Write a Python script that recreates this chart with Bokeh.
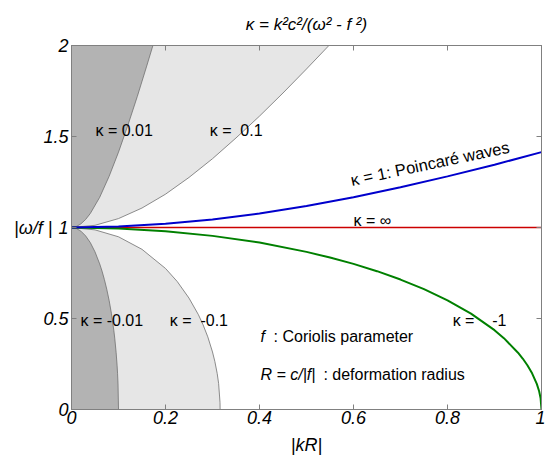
from bokeh.plotting import figure
from bokeh.models import Range1d, LinearAxis, FixedTicker
from bokeh.core.properties import value
from bokeh.embed import file_html
from bokeh.resources import INLINE

# kappa = 0.01 (upper boundary of dark region)
k001_x = [0, 0.01, 0.02, 0.03, 0.04, 0.06, 0.08, 0.10, 0.12, 0.14, 0.16, 0.1732]
k001_y = [1, 1.005, 1.020, 1.044, 1.077, 1.166, 1.281, 1.414, 1.562, 1.720, 1.887, 2.0]
# kappa = 0.1
k01_x = [0, 0.05, 0.10, 0.15, 0.20, 0.25, 0.30, 0.35, 0.40, 0.45, 0.50, 0.5477]
k01_y = [1, 1.012, 1.049, 1.107, 1.183, 1.275, 1.378, 1.492, 1.612, 1.739, 1.871, 2.0]
# kappa = -0.01
km001_x = [0, 0.01, 0.02, 0.03, 0.04, 0.05, 0.06, 0.065, 0.07, 0.075, 0.08, 0.085, 0.09, 0.092,
           0.095, 0.097, 0.098, 0.099, 0.1]
km001_y = [1, 0.995, 0.980, 0.954, 0.917, 0.866, 0.800, 0.760, 0.714, 0.661, 0.600, 0.527, 0.436, 0.392,
           0.312, 0.243, 0.199, 0.141, 0.0]
# kappa = -0.1
km01_x = [0, 0.05, 0.10, 0.15, 0.20, 0.225, 0.25, 0.27, 0.28, 0.29, 0.30, 0.305, 0.31, 0.313, 0.316, 0.3162]
km01_y = [1, 0.987, 0.949, 0.880, 0.775, 0.703, 0.612, 0.521, 0.465, 0.399, 0.316, 0.264, 0.198, 0.143, 0.038, 0.0]
# kappa = 1 : Poincare waves
k1_x = [0, 0.1, 0.2, 0.3, 0.4, 0.5, 0.6, 0.7, 0.8, 0.9, 1.0]
k1_y = [1, 1.005, 1.020, 1.044, 1.077, 1.118, 1.166, 1.221, 1.281, 1.345, 1.414]
# kappa = -1
km1_x = [0, 0.1, 0.2, 0.3, 0.4, 0.5, 0.55, 0.6, 0.65, 0.7, 0.75, 0.8, 0.85, 0.9, 0.92, 0.95, 0.96, 0.97,
         0.98, 0.99, 0.995, 0.998, 1.0]
km1_y = [1, 0.995, 0.980, 0.954, 0.917, 0.866, 0.835, 0.800, 0.760, 0.714, 0.661, 0.600, 0.527, 0.436, 0.392,
         0.312, 0.280, 0.243, 0.199, 0.141, 0.100, 0.063, 0.0]
# kappa = infinity
kinf_x = [0, 1]
kinf_y = [1, 1]

x_ticks = [0, 0.2, 0.4, 0.6, 0.8, 1]
y_ticks = [0, 0.5, 1, 1.5, 2]

NB = "\u00a0"
labels_txt = ["κ = 0.01", "κ =" + NB * 2 + "0.1", "κ = -0.01", "κ =" + NB * 2 + "-0.1",
              "κ =" + NB * 4 + "-1", "κ = ∞"]
labels_x = [0.051, 0.294, 0.019, 0.209, 0.811, 0.60]
labels_y = [1.535, 1.535, 0.487, 0.487, 0.49, 1.04]

notes_it_txt = ["f", "R = c/|f|"]
notes_it_x = [0.402, 0.402]
notes_txt = [": Coriolis parameter", ": deformation radius"]
notes_x = [0.430, 0.536]
notes_y = [0.40, 0.195]

FONT = "Liberation Sans"
GRAY = "#808080"

p = figure(width=545, height=457, x_range=Range1d(0, 1), y_range=Range1d(0, 2),
           output_backend="svg", toolbar_location=None,
           min_border_left=71, min_border_right=4, min_border_top=42, min_border_bottom=45)
p.grid.visible = False
p.outline_line_color = GRAY
p.background_fill_color = "white"

# fills
light_xs = [0] + k01_x[::-1] + km01_x + [0]
light_ys = [2] + k01_y[::-1] + km01_y + [0]
dark_xs = [0] + k001_x[::-1] + km001_x + [0]
dark_ys = [2] + k001_y[::-1] + km001_y + [0]
p.patch(light_xs, light_ys, fill_color="#e6e6e6", line_color=None)
p.patch(dark_xs, dark_ys, fill_color="#b3b3b3", line_color=None)
for xs, ys in [(k001_x, k001_y), (k01_x, k01_y), (km001_x, km001_y), (km01_x, km01_y)]:
    p.line(xs, ys, line_color="#707070", line_width=0.8)

p.line(kinf_x, kinf_y, line_color="#cc0000", line_width=1.5)
p.line(km1_x, km1_y, line_color="#008000", line_width=2)
p.line(k1_x, k1_y, line_color="#0000cc", line_width=2)

p.text(labels_x, labels_y, text=labels_txt, text_font=value(FONT), text_font_size="16px",
       text_baseline="middle", text_align="left", text_color="black")
p.text(notes_it_x, notes_y, text=notes_it_txt, text_font=value(FONT), text_font_size="16px",
       text_font_style="italic", text_baseline="middle", text_align="left", text_color="black")
p.text(notes_x, notes_y, text=notes_txt, text_font=value(FONT), text_font_size="16px",
       text_baseline="middle", text_align="left", text_color="black")
p.text([0.598], [1.212], text=["κ = 1: Poincaré waves"], text_font=value(FONT),
       text_font_size="16.5px", text_baseline="bottom", text_align="left", angle=0.208,
       text_color="black")

# title
p.title.text = "κ = k²c²/(ω² - f ²)"
p.title.align = "center"
p.title.text_font = FONT
p.title.text_font_style = "italic"
p.title.text_font_size = "17px"
p.title.text_color = "black"
p.title.standoff = 24

# axes styling
for ax in [p.xaxis[0], p.yaxis[0]]:
    ax.major_tick_in = 5
    ax.major_tick_out = 0
    ax.minor_tick_line_color = None
    ax.axis_line_color = GRAY
    ax.major_tick_line_color = GRAY
    ax.major_label_text_font = FONT
    ax.major_label_text_font_style = "italic"
    ax.major_label_text_font_size = "18px"
    ax.major_label_text_color = "black"
    ax.axis_label_text_font = FONT
    ax.axis_label_text_font_style = "italic"
    ax.axis_label_text_font_size = "18px"
    ax.axis_label_text_color = "black"
p.xaxis[0].ticker = FixedTicker(ticks=x_ticks)
p.yaxis[0].ticker = FixedTicker(ticks=y_ticks)
p.xaxis[0].major_label_standoff = 1
p.yaxis[0].major_label_standoff = 3
p.xaxis[0].axis_label = "|kR|"
p.xaxis[0].axis_label_standoff = 8
p.yaxis[0].axis_label = "|ω/f |"
p.yaxis[0].axis_label_orientation = "horizontal"
p.yaxis[0].axis_label_standoff = -12

for loc, ticks in [("right", y_ticks), ("above", x_ticks)]:
    ax = LinearAxis(ticker=FixedTicker(ticks=ticks), major_tick_in=5, major_tick_out=0,
                    minor_tick_line_color=None, axis_line_color=GRAY, major_tick_line_color=GRAY,
                    major_label_overrides={t: "" for t in ticks}, major_label_standoff=0)
    p.add_layout(ax, loc)

open("out.html", "w").write(file_html(p, INLINE))
